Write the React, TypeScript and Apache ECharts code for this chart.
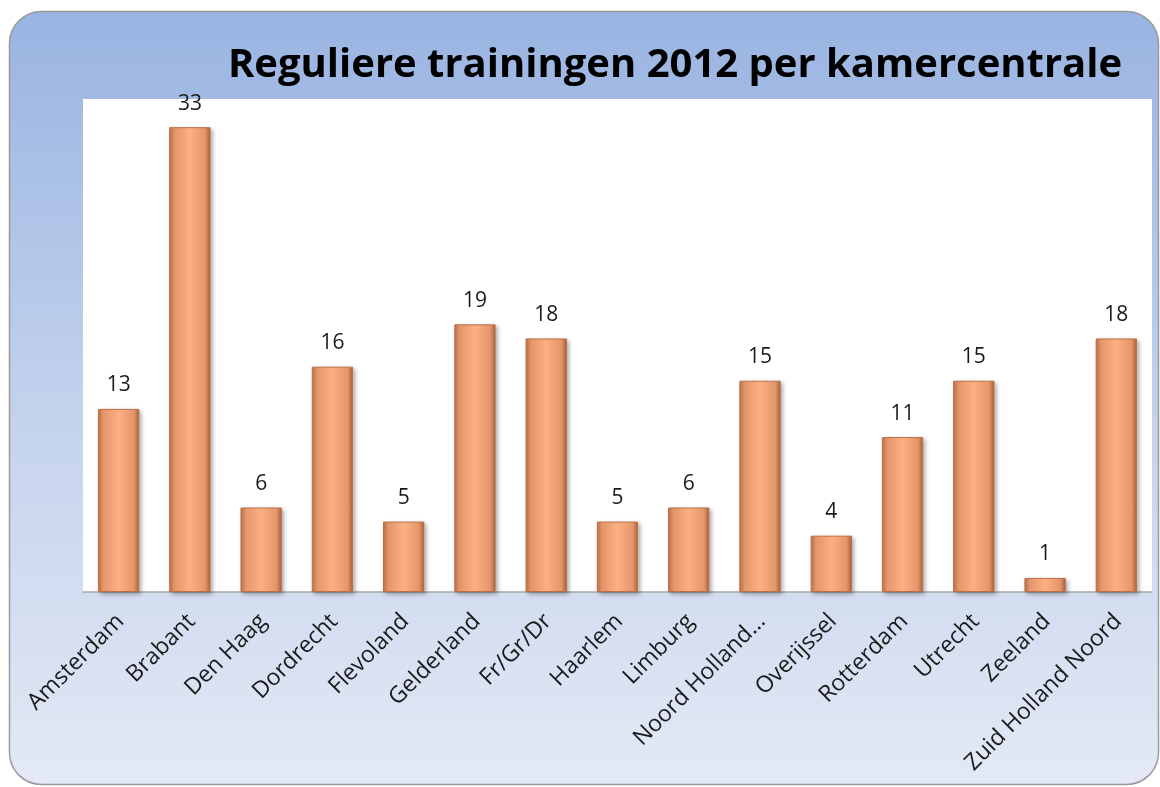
import React, { useEffect, useRef } from "react";
import * as echarts from "echarts";

const categories = [
  "Amsterdam", "Brabant", "Den Haag", "Dordrecht", "Flevoland", "Gelderland", "Fr/Gr/Dr",
  "Haarlem", "Limburg", "Noord Holland…", "Overijssel", "Rotterdam", "Utrecht", "Zeeland",
  "Zuid Holland Noord",
];
const values = [13, 33, 6, 16, 5, 19, 18, 5, 6, 15, 4, 11, 15, 1, 18];
const titleText = "Reguliere trainingen 2012 per kamercentrale";

export default function App() {
  const ref = useRef<HTMLDivElement>(null);
  useEffect(() => {
    if (!ref.current) return;
    const chart = echarts.init(ref.current, undefined, { renderer: "svg" });
    const barGrad = new echarts.graphic.LinearGradient(0, 0, 1, 0, [
      { offset: 0, color: "#b9714a" },
      { offset: 0.12, color: "#e4956a" },
      { offset: 0.5, color: "#fcb182" },
      { offset: 0.88, color: "#e4956a" },
      { offset: 1, color: "#a8623e" },
    ]);
    chart.setOption({
      animation: false,
      graphic: [
        {
          type: "rect",
          z: -10,
          silent: true,
          shape: { x: 9.5, y: 11.5, width: 1149, height: 773, r: 32 },
          style: {
            fill: new echarts.graphic.LinearGradient(0, 0, 0, 1, [
              { offset: 0, color: "#99b4e2" },
              { offset: 0.5, color: "#c2d1ec" },
              { offset: 1, color: "#e3e9f5" },
            ]),
            stroke: "#9a9a9a",
            lineWidth: 1.5,
          },
        },
      ],
      title: {
        text: titleText,
        left: 670,
        top: 36,
        textAlign: "center",
        textStyle: {
          fontFamily: "Open Sans",
          fontWeight: "bold",
          fontSize: 40,
          color: "#000",
        },
      },
      grid: {
        left: 83,
        right: 8,
        top: 99,
        bottom: 195,
        show: true,
        backgroundColor: "#ffffff",
        borderWidth: 0,
      },
      xAxis: {
        type: "category",
        data: categories,
        axisTick: { show: false },
        axisLine: { lineStyle: { color: "#a6a6a6", width: 1.5 } },
        axisLabel: {
          interval: 0,
          rotate: 45,
          margin: 24,
          fontFamily: "Open Sans",
          fontSize: 23,
          color: "#1a1a1a",
        },
      },
      yAxis: {
        type: "value",
        min: 0,
        max: 35,
        show: false,
        splitLine: { show: false },
      },
      series: [
        {
          type: "bar",
          data: values,
          barCategoryGap: "42%",
          itemStyle: {
            color: barGrad,
            borderColor: "#b87048",
            borderWidth: 1,
            shadowBlur: 4,
            shadowOffsetX: 2,
            shadowOffsetY: 2,
            shadowColor: "rgba(0,0,0,0.35)",
          },
          label: {
            show: true,
            position: "top",
            distance: 15,
            fontFamily: "Open Sans",
            fontSize: 21,
            color: "#1a1a1a",
          },
        },
      ],
    });
    return () => chart.dispose();
  }, []);
  return (
    <div
      ref={ref}
      style={{ position: "fixed", left: 0, top: 0, width: 1160, height: 787 }}
    />
  );
}
